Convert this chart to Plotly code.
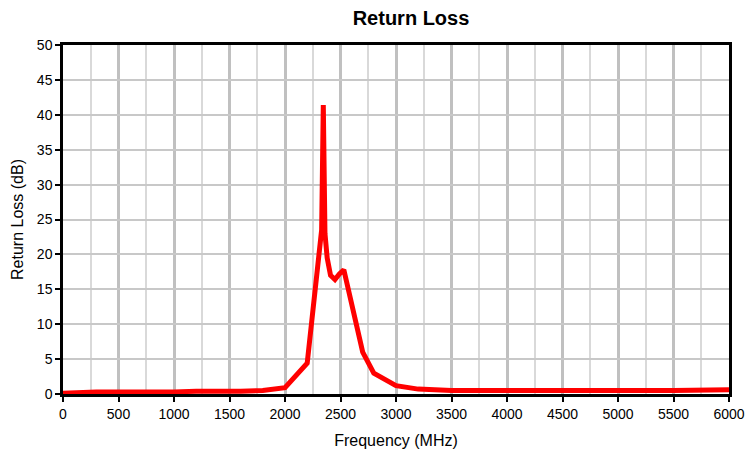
import plotly.graph_objects as go

freq_mhz = [0, 300, 1000, 1200, 1600, 1800, 2000, 2200, 2330, 2345, 2360, 2380,
            2410, 2450, 2490, 2530, 2700, 2800, 3000, 3200, 3500, 4000, 4500,
            5000, 5500, 6000]
return_loss_db = [0.1, 0.3, 0.3, 0.4, 0.4, 0.5, 0.9, 4.4, 23.5, 41.4, 23.0, 19.5,
                  17.0, 16.4, 17.2, 17.8, 6.0, 3.0, 1.2, 0.7, 0.5, 0.45, 0.45,
                  0.5, 0.5, 0.6]

x_ticks = list(range(0, 6001, 500))
y_ticks = list(range(0, 51, 5))

fig = go.Figure()
fig.add_trace(go.Scatter(x=freq_mhz, y=return_loss_db, mode="lines",
                         line=dict(color="#ff0000", width=5), showlegend=False))

font = "Liberation Sans, Arial, sans-serif"
fig.update_layout(
    width=745, height=456,
    margin=dict(l=63, r=16, t=45, b=62),
    paper_bgcolor="white", plot_bgcolor="white",
    font=dict(family=font, size=14, color="black"),
    title=dict(text="<b>Return Loss</b>", x=411/745, xanchor="center",
               y=1 - 18/456, yanchor="middle",
               font=dict(family=font, size=20, color="black")),
)
fig.update_xaxes(
    range=[0, 6000], tickvals=x_ticks, ticktext=[str(v) for v in x_ticks],
    ticks="outside", ticklen=5, tickwidth=2, tickcolor="black",
    showline=True, linecolor="black", linewidth=2.5, mirror=True,
    showgrid=True, gridcolor="#c0c0c0", gridwidth=3,
    minor=dict(dtick=250, tick0=0, showgrid=True, gridcolor="#d9d9d9", gridwidth=1.5),
    zeroline=False, automargin=False,
    tickfont=dict(size=14),
    title=dict(text="Frequency (MHz)", font=dict(size=16), standoff=15),
)
fig.update_yaxes(
    range=[0, 50], tickvals=y_ticks, ticktext=[str(v) for v in y_ticks],
    ticks="outside", ticklen=5, tickwidth=2, tickcolor="black",
    showline=True, linecolor="black", linewidth=2.5, mirror=True,
    showgrid=True, gridcolor="#c8c8c8", gridwidth=1.5,
    zeroline=False, automargin=False,
    tickfont=dict(size=14),
    title=dict(text="Return Loss (dB)", font=dict(size=16), standoff=10),
)
fig.write_html("out.html", config={"displayModeBar": False},
               post_script="document.body.style.margin='0px';document.body.style.padding='0px';")
